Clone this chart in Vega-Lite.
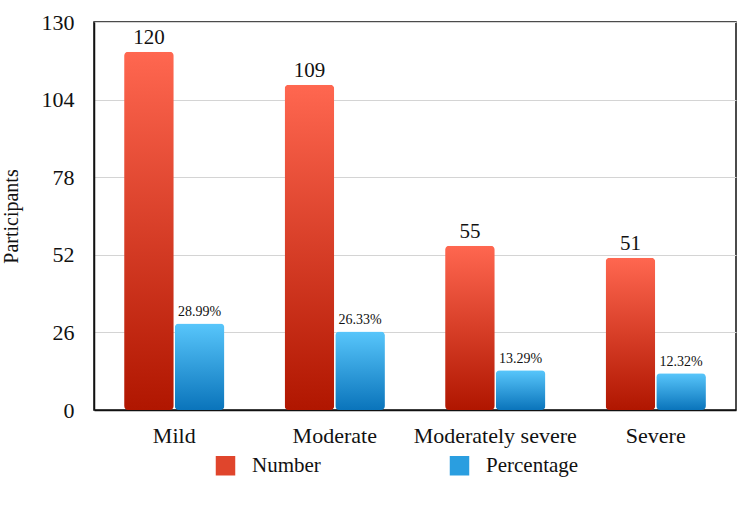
{
  "$schema": "https://vega.github.io/schema/vega-lite/v6.json",
  "width": 642,
  "height": 388,
  "autosize": {"type": "none"},
  "padding": {"left": 94, "top": 22, "right": 14, "bottom": 110},
  "background": "white",
  "config": {
    "font": "Times New Roman",
    "view": {"stroke": "#111111", "strokeWidth": 1.5},
    "text": {"font": "Times New Roman"},
    "axis": {"labelFont": "Times New Roman", "titleFont": "Times New Roman", "labelColor": "#111", "titleColor": "#111"},
    "legend": {"labelFont": "Times New Roman"}
  },
  "data": {
    "values": [
      {"severity": "Mild", "series": "Number", "value": 120, "label": "120"},
      {"severity": "Mild", "series": "Percentage", "value": 28.99, "label": "28.99%"},
      {"severity": "Moderate", "series": "Number", "value": 109, "label": "109"},
      {"severity": "Moderate", "series": "Percentage", "value": 26.33, "label": "26.33%"},
      {"severity": "Moderately severe", "series": "Number", "value": 55, "label": "55"},
      {"severity": "Moderately severe", "series": "Percentage", "value": 13.29, "label": "13.29%"},
      {"severity": "Severe", "series": "Number", "value": 51, "label": "51"},
      {"severity": "Severe", "series": "Percentage", "value": 12.32, "label": "12.32%"}
    ]
  },
  "encoding": {
    "x": {
      "field": "severity", "type": "nominal", "sort": null,
      "scale": {"paddingInner": 0.375, "paddingOuter": 0.1875},
      "axis": {"title": null, "labelAngle": 0, "labelFontSize": 22, "labelPadding": 15, "ticks": false, "domainColor": "#111", "domainWidth": 1.5, "grid": false}
    },
    "xOffset": {"field": "series", "type": "nominal", "sort": ["Number", "Percentage"], "scale": {"paddingInner": 0.02}},
    "y": {
      "field": "value", "type": "quantitative",
      "scale": {"domain": [0, 130], "nice": false},
      "axis": {"title": "Participants", "titleFontSize": 20, "titleFontWeight": "normal", "titlePadding": 20, "values": [0, 26, 52, 78, 104, 130], "labelFontSize": 22, "labelPadding": 20, "ticks": false, "domainColor": "#111", "domainWidth": 1.5, "gridColor": "#d4d4d4", "gridWidth": 1}
    }
  },
  "layer": [
    {
      "mark": {"type": "bar", "opacity": 0},
      "encoding": {
        "color": {
          "field": "series", "type": "nominal",
          "scale": {"domain": ["Number", "Percentage"], "range": ["#e0452c", "#2a9ee0"]},
          "legend": {
            "title": null, "orient": "none", "legendX": 121, "legendY": 433,
            "direction": "horizontal", "columns": 2, "columnPadding": 128,
            "symbolType": "square", "symbolSize": 380, "symbolStrokeWidth": 0, "symbolOpacity": 1,
            "labelFontSize": 21, "labelFont": "Times New Roman", "labelColor": "#111", "labelOffset": 16,
            "encode": {
              "symbols": {
                "update": {
                  "opacity": {"value": 1},
                  "fill": {"signal": "datum.value === 'Number' ? {gradient: 'linear', x1: 0, y1: 0, x2: 0, y2: 1, stops: [{offset: 0, color: '#ff6750'}, {offset: 1, color: '#b01600'}]} : {gradient: 'linear', x1: 0, y1: 0, x2: 0, y2: 1, stops: [{offset: 0, color: '#58c6fb'}, {offset: 1, color: '#0a74bb'}]}"}
                }
              }
            }
          }
        }
      }
    },
    {
      "transform": [{"filter": "datum.series === 'Number'"}],
      "mark": {"type": "bar", "cornerRadius": 4,
        "fill": {"gradient": "linear", "x1": 0, "y1": 0, "x2": 0, "y2": 1, "stops": [{"offset": 0, "color": "#ff6750"}, {"offset": 1, "color": "#b01600"}]}}
    },
    {
      "transform": [{"filter": "datum.series === 'Percentage'"}],
      "mark": {"type": "bar", "cornerRadius": 4,
        "fill": {"gradient": "linear", "x1": 0, "y1": 0, "x2": 0, "y2": 1, "stops": [{"offset": 0, "color": "#58c6fb"}, {"offset": 1, "color": "#0a74bb"}]}}
    },
    {
      "transform": [{"filter": "datum.series === 'Number'"}],
      "mark": {"type": "text", "baseline": "bottom", "dy": -4, "fontSize": 21, "color": "#111", "font": "Times New Roman"},
      "encoding": {"text": {"field": "label"}}
    },
    {
      "transform": [{"filter": "datum.series === 'Percentage'"}],
      "mark": {"type": "text", "baseline": "bottom", "dy": -4, "fontSize": 14, "color": "#111", "font": "Times New Roman"},
      "encoding": {"text": {"field": "label"}}
    }
  ]
}
